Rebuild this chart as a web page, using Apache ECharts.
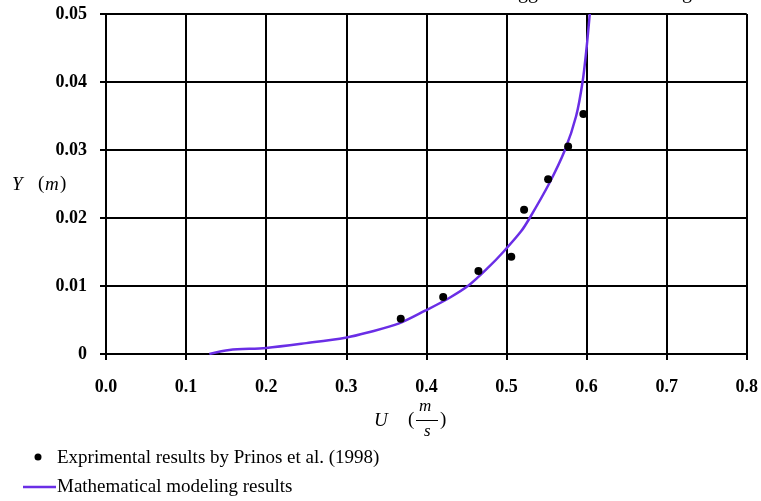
<!DOCTYPE html>
<html>
<head>
<meta charset="utf-8">
<script src="https://cdn.jsdelivr.net/npm/echarts@6/dist/echarts.min.js"></script>
<style>html,body{margin:0;padding:0;background:#fff}#c{width:761px;height:501px}</style>
</head>
<body>
<div id="c"></div>
<script>
var expU = [0.368, 0.421, 0.465, 0.506, 0.522, 0.552, 0.577, 0.596];
var expY = [0.0052, 0.0084, 0.0122, 0.0143, 0.0212, 0.0257, 0.0305, 0.0353];
var modU = [0.129, 0.154, 0.200, 0.250, 0.299, 0.328, 0.366, 0.399, 0.428, 0.453, 0.478, 0.496, 0.518, 0.529, 0.553, 0.573, 0.587, 0.595, 0.600, 0.604];
var modY = [0.0, 0.0006, 0.0009, 0.0016, 0.0024, 0.0032, 0.0045, 0.0064, 0.0082, 0.0101, 0.0128, 0.0150, 0.0180, 0.0200, 0.0250, 0.0300, 0.0350, 0.0400, 0.0450, 0.0500];
var seriesNames = ['Exprimental results by Prinos et al. (1998)', 'Mathematical modeling results'];

var FONT = '"Liberation Serif","Times New Roman",serif';
var PURPLE = '#6a2ee6';
var chart = echarts.init(document.getElementById('c'));
chart.setOption({
  animation: false,
  backgroundColor: '#fff',
  grid: {left: 106, right: 12, top: 14, bottom: 147},
  xAxis: {
    type: 'value', min: 0, max: 0.8, interval: 0.1,
    axisLine: {show: true, lineStyle: {color: '#000', width: 2}},
    axisTick: {show: true, length: 6, lineStyle: {color: '#000', width: 2}},
    splitLine: {show: true, lineStyle: {color: '#000', width: 2}},
    axisLabel: {color: '#000', fontFamily: FONT, fontWeight: 'bold', fontSize: 18, margin: 24,
      formatter: function (v) { return v.toFixed(1); }}
  },
  yAxis: {
    type: 'value', min: 0, max: 0.05, interval: 0.01,
    axisLine: {show: true, lineStyle: {color: '#000', width: 2}},
    axisTick: {show: true, length: 6, lineStyle: {color: '#000', width: 2}},
    splitLine: {show: true, lineStyle: {color: '#000', width: 2}},
    axisLabel: {color: '#000', fontFamily: FONT, fontWeight: 'bold', fontSize: 18, margin: 19,
      formatter: function (v) { return v === 0 ? '0' : v.toFixed(2); }}
  },
  series: [
    {
      name: seriesNames[0], type: 'scatter', symbol: 'circle', symbolSize: 8,
      itemStyle: {color: '#000', opacity: 1},
      data: expU.map(function (u, i) { return [u, expY[i]]; }), z: 3
    },
    {
      name: seriesNames[1], type: 'line', symbol: 'none', smooth: 0.3,
      lineStyle: {color: PURPLE, width: 2.5}, itemStyle: {color: PURPLE},
      data: modU.map(function (u, i) { return [u, modY[i]]; }), z: 2
    }
  ],
  graphic: [
    {type: 'text', left: 12, top: 175, style: {text: 'Y', font: 'italic 19px ' + FONT, fill: '#000'}},
    {type: 'text', left: 38, top: 175, style: {text: '(', font: '19px ' + FONT, fill: '#000'}},
    {type: 'text', left: 45, top: 175, style: {text: 'm', font: 'italic 19px ' + FONT, fill: '#000'}},
    {type: 'text', left: 60, top: 175, style: {text: ')', font: '19px ' + FONT, fill: '#000'}},
    {type: 'text', left: 374, top: 411, style: {text: 'U', font: 'italic 19px ' + FONT, fill: '#000'}},
    {type: 'text', left: 408, top: 411, style: {text: '(', font: '19px ' + FONT, fill: '#000'}},
    {type: 'text', left: 419, top: 398, style: {text: 'm', font: 'italic 17px ' + FONT, fill: '#000'}},
    {type: 'line', shape: {x1: 416, y1: 420.5, x2: 438, y2: 420.5}, style: {stroke: '#000', lineWidth: 1}},
    {type: 'text', left: 424, top: 423, style: {text: 's', font: 'italic 17px ' + FONT, fill: '#000'}},
    {type: 'text', left: 440, top: 411, style: {text: ')', font: '19px ' + FONT, fill: '#000'}},
    {type: 'text', x: 518, y: 3, style: {text: 'ggested', font: '20px ' + FONT, fill: '#000', verticalAlign: 'bottom'}},
    {type: 'text', x: 682, y: 3, style: {text: 'g', font: '20px ' + FONT, fill: '#000', verticalAlign: 'bottom'}},
    {type: 'circle', shape: {cx: 38, cy: 457, r: 3.5}, style: {fill: '#000'}},
    {type: 'text', x: 57, y: 458, style: {text: seriesNames[0], font: '19px ' + FONT, fill: '#000', verticalAlign: 'middle'}},
    {type: 'line', shape: {x1: 23, y1: 487, x2: 56, y2: 487}, style: {stroke: PURPLE, lineWidth: 2.5}},
    {type: 'text', x: 57, y: 487, style: {text: seriesNames[1], font: '19px ' + FONT, fill: '#000', verticalAlign: 'middle'}}
  ]
});
</script>
</body>
</html>
